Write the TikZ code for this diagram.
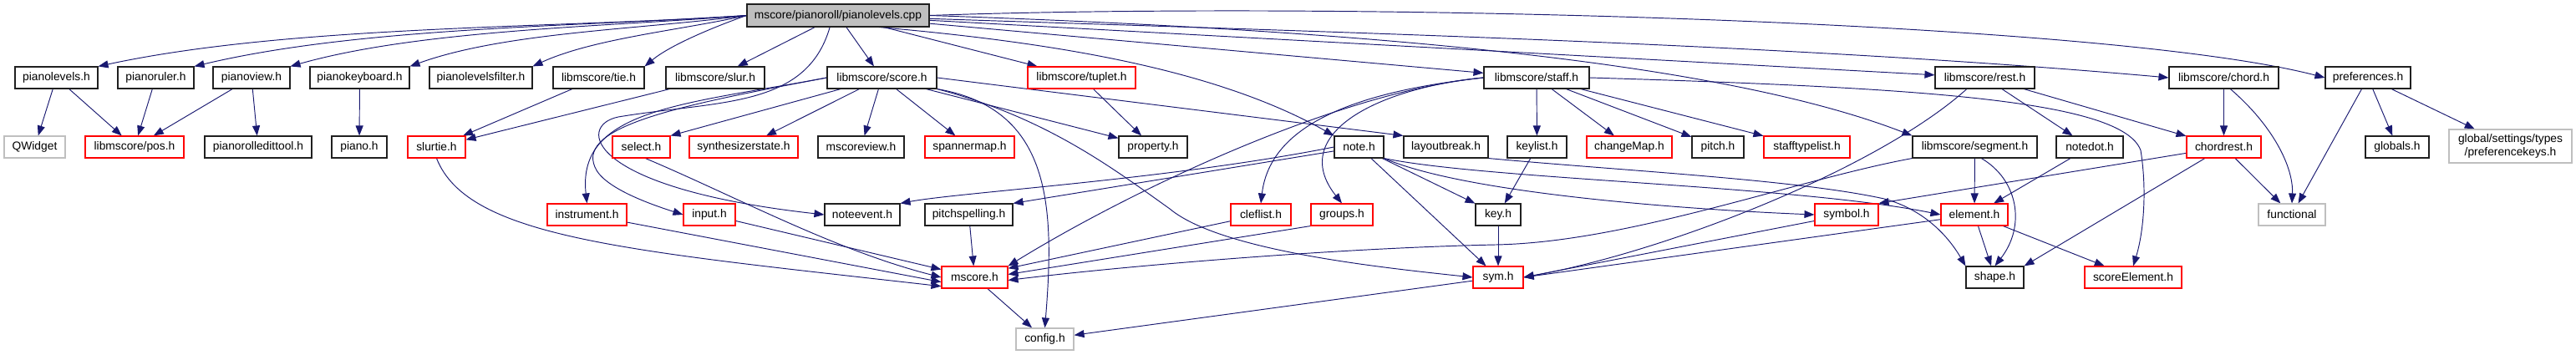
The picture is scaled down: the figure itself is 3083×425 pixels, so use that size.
\documentclass[tikz,border=0pt]{standalone}
\usepackage{fontspec}
\setmainfont{Liberation Sans}
\usetikzlibrary{arrows.meta}
\definecolor{edgec}{HTML}{191970}
\definecolor{grayb}{HTML}{BFBFBF}
\definecolor{rootf}{HTML}{BFBFBF}
\definecolor{boxk}{HTML}{202020}
\pgfdeclarelayer{bg}
\pgfsetlayers{bg,main}
\begin{document}
\begin{tikzpicture}[x=1pt,y=1pt,
  fbox/.style={draw=boxk, line width=1.1pt, fill=white, minimum height=26pt, inner sep=0pt,
    font=\fontsize{13.8}{16}\selectfont, text=black},
  rbox/.style={fbox, draw=red},
  gbox/.style={fbox, draw=grayb},
  rootbox/.style={fbox, fill=rootf, minimum height=27pt},
  dep/.style={draw=edgec, line width=0.95pt, -{Triangle[length=12pt,width=9pt]}}
]
\useasboundingbox (0,0) rectangle (3083,-425);

% row 0
\node[rootbox, minimum width=218pt] (R) at (1003,-18.5) {mscore/pianoroll/pianolevels.cpp};
% row 1
\node[fbox, minimum width=99pt]  (plv)    at (67.5,-93)  {pianolevels.h};
\node[fbox, minimum width=91pt]  (pr)     at (186.5,-93) {pianoruler.h};
\node[fbox, minimum width=92pt]  (pv)     at (301,-93)   {pianoview.h};
\node[fbox, minimum width=119pt] (pk)     at (430.5,-93) {pianokeyboard.h};
\node[fbox, minimum width=123pt] (pf)     at (575.5,-93) {pianolevelsfilter.h};
\node[fbox, minimum width=109pt] (tie)    at (716.5,-93) {libmscore/tie.h};
\node[fbox, minimum width=118pt] (slur)   at (856,-93)   {libmscore/slur.h};
\node[fbox, minimum width=131pt] (score)  at (1055.5,-93) {libmscore/score.h};
\node[rbox, minimum width=129pt] (tuplet) at (1294.5,-93) {libmscore/tuplet.h};
\node[fbox, minimum width=126pt] (staff)  at (1839,-93)  {libmscore/staff.h};
\node[fbox, minimum width=119pt] (rest)   at (2375.5,-93) {libmscore/rest.h};
\node[fbox, minimum width=131pt] (chord)  at (2661.5,-93) {libmscore/chord.h};
\node[fbox, minimum width=102pt] (pref)   at (2834,-93)  {preferences.h};
% row 2
\node[gbox, minimum width=73pt]  (qw)      at (41.5,-176)  {QWidget};
\node[rbox, minimum width=118pt] (pos)     at (161,-176)   {libmscore/pos.h};
\node[fbox, minimum width=128pt] (pet)     at (309,-176)   {pianorolledittool.h};
\node[fbox, minimum width=66pt]  (piano)   at (430,-176)   {piano.h};
\node[rbox, minimum width=69pt]  (slurtie) at (522.5,-176) {slurtie.h};
\node[rbox, minimum width=69pt]  (select)  at (767.5,-176) {select.h};
\node[rbox, minimum width=130pt] (synth)   at (890,-176)   {synthesizerstate.h};
\node[fbox, minimum width=103pt] (msv)     at (1030.5,-176) {mscoreview.h};
\node[rbox, minimum width=107pt] (span)    at (1160.5,-176) {spannermap.h};
\node[fbox, minimum width=82pt]  (prop)    at (1380,-176)  {property.h};
\node[fbox, minimum width=59pt]  (note)    at (1626.5,-176) {note.h};
\node[fbox, minimum width=101pt] (lb)      at (1730.5,-176) {layoutbreak.h};
\node[fbox, minimum width=71pt]  (keylist) at (1839.5,-176) {keylist.h};
\node[rbox, minimum width=102pt] (cmap)    at (1950,-176)  {changeMap.h};
\node[fbox, minimum width=62pt]  (pitch)   at (2056,-176)  {pitch.h};
\node[rbox, minimum width=103pt] (stl)     at (2162.5,-176) {stafftypelist.h};
\node[fbox, minimum width=149pt] (seg)     at (2363.5,-176) {libmscore/segment.h};
\node[fbox, minimum width=80pt]  (notedot) at (2501,-176)  {notedot.h};
\node[rbox, minimum width=89pt]  (cr)      at (2661.5,-176) {chordrest.h};
\node[fbox, minimum width=76pt]  (glob)    at (2869,-176)  {globals.h};
\node[gbox, minimum width=147pt, minimum height=40pt, align=center] (pk2) at (3004.5,-175)
  {global/settings/types\\/preferencekeys.h};
% row 3
\node[rbox, minimum width=95pt]  (instr)  at (702.5,-257) {instrument.h};
\node[rbox, minimum width=62pt]  (input)  at (849,-257)   {input.h};
\node[fbox, minimum width=90pt]  (nev)    at (1032,-257)  {noteevent.h};
\node[fbox, minimum width=105pt] (psp)    at (1159.5,-257) {pitchspelling.h};
\node[rbox, minimum width=72pt]  (clef)   at (1509,-257)  {cleflist.h};
\node[rbox, minimum width=74pt]  (groups) at (1606,-257)  {groups.h};
\node[fbox, minimum width=54pt]  (key)    at (1793,-257)  {key.h};
\node[rbox, minimum width=76pt]  (symbol) at (2210,-257)  {symbol.h};
\node[rbox, minimum width=80pt]  (elem)   at (2363,-257)  {element.h};
\node[gbox, minimum width=80pt]  (func)   at (2743,-257)  {functional};
% row 4
\node[rbox, minimum width=79pt]  (ms)    at (1166.5,-332) {mscore.h};
\node[rbox, minimum width=60pt]  (sym)   at (1793,-332)   {sym.h};
\node[fbox, minimum width=69pt]  (shape) at (2387.5,-332) {shape.h};
\node[rbox, minimum width=116pt] (sce)   at (2553,-332)   {scoreElement.h};
% row 5
\node[gbox, minimum width=69pt]  (config) at (1250.5,-406) {config.h};

\begin{pgfonlayer}{bg}
% from the root
\draw[dep] (R.west) .. controls (664,-34) and (347,-30) .. (plv.north east);
\draw[dep] (R.west) .. controls (694,-32) and (432,-32) .. (pr.north east);
\draw[dep] (R.west) .. controls (730,-32) and (505,-35) .. (pv.north east);
\draw[dep] (R.west) .. controls (773,-35) and (605,-38) .. (pk.north east);
\draw[dep] (R.west) .. controls (816,-36) and (710,-46) .. (pf.north east);
\draw[dep] (R.west) .. controls (855,-32) and (802,-54) .. (tie.north east);
\draw[dep] (R) -- (slur);
\draw[dep] (R) -- (score);
\draw[dep] (R) -- (tuplet);
\draw[dep] (R.344) .. controls (1250,-50) and (1450,-80) .. (note.north west);
\draw[dep] (R) -- (staff);
\draw[dep] (R.east) .. controls (1600,-35) and (2050,-70) .. (seg.north west);
\draw[dep] (R) -- (rest);
\draw[dep] (R.-2) .. controls (1577,-38) and (2133,-52) .. (chord.west);
\draw[dep] (R.east) .. controls (1614,-1) and (2520,-25) .. (pref.west);
\draw[dep] (R.235) .. controls (965,-130) and (860,-120) .. (740,-140)
   .. controls (690,-150) and (700,-225) .. (nev.west);
% piano part
\draw[dep] (plv) -- (qw);
\draw[dep] (plv) -- (pos);
\draw[dep] (pr) -- (pos);
\draw[dep] (pv) -- (pos);
\draw[dep] (pv) -- (pet);
\draw[dep] (pk) -- (piano);
\draw[dep] (tie) -- (slurtie);
\draw[dep] (slur) -- (slurtie);
\draw[dep] (slurtie.south) .. controls (560,-285) and (750,-300) .. (ms.195);
% score.h
\draw[dep] (score) -- (select.north east);
\draw[dep] (score) -- (synth);
\draw[dep] (score) -- (msv);
\draw[dep] (score) -- (span);
\draw[dep] (score) -- (prop);
\draw[dep] (score.east) -- (lb.north west);
\draw[dep] (score.west) .. controls (820,-125) and (690,-130) .. (instr.north);
\draw[dep] (score.west) .. controls (820,-125) and (690,-150) .. (712,-200)
   .. controls (722,-225) and (780,-245) .. (input.west);
\draw[dep] (score.south east) .. controls (1260,-130) and (1262,-250) .. (config.north);
\draw[dep] (score.south east) .. controls (1250,-140) and (1330,-200) .. (1400,-250)
   .. controls (1460,-300) and (1650,-320) .. (sym.west);
\draw[dep] (tuplet) -- (prop);
% note.h
\draw[dep] (note.west) .. controls (1400,-215) and (1150,-230) .. (nev.north east);
\draw[dep] (note) -- (psp.north east);
\draw[dep] (note) -- (key);
\draw[dep] (note) -- (sym);
\draw[dep] (note.south east) .. controls (1750,-230) and (2000,-250) .. (symbol.west);
\draw[dep] (note.south east) .. controls (1780,-215) and (2150,-222) .. (elem.west);
% staff.h
\draw[dep] (staff) -- (keylist);
\draw[dep] (staff) -- (cmap);
\draw[dep] (staff) -- (pitch);
\draw[dep] (staff) -- (stl);
\draw[dep] (staff.west) .. controls (1620,-110) and (1520,-150) .. (clef.north);
\draw[dep] (staff.west) .. controls (1650,-105) and (1540,-160) .. (groups.north);
\draw[dep] (staff.west) .. controls (1600,-110) and (1350,-230) .. (ms.north east);
\draw[dep] (staff.east) .. controls (2300,-105) and (2540,-120) .. (2562,-180)
   .. controls (2570,-230) and (2565,-280) .. (sce.north);
% rest.h, chord.h, preferences.h
\draw[dep] (rest) -- (notedot);
\draw[dep] (rest) -- (cr);
\draw[dep] (rest.212) .. controls (2250,-200) and (2000,-300) .. (sym.east);
\draw[dep] (chord) -- (cr);
\draw[dep] (chord.300) .. controls (2720,-150) and (2745,-200) .. (func.north);
\draw[dep] (pref) -- (func);
\draw[dep] (pref) -- (glob);
\draw[dep] (pref) -- (pk2);
% chordrest.h
\draw[dep] (cr) -- (symbol.north east);
\draw[dep] (cr) -- (shape.north east);
\draw[dep] (cr) -- (func);
% segment.h
\draw[dep] (seg) -- (elem);
\draw[dep] (seg.300) .. controls (2415,-215) and (2425,-270) .. (shape.north);
\draw[dep] (seg.south west) .. controls (2150,-215) and (1950,-290) .. (1790,-293)
   .. controls (1600,-297) and (1350,-318) .. (ms.-5);
\draw[dep] (notedot) -- (elem);
\draw[dep] (lb.south east) .. controls (1950,-205) and (2150,-215) .. (2255,-238)
   .. controls (2300,-250) and (2330,-280) .. (shape.north west);
% element, symbol, key
\draw[dep] (elem.188) -- (sym.east);
\draw[dep] (elem) -- (shape);
\draw[dep] (elem) -- (sce);
\draw[dep] (symbol) -- (sym.east);
\draw[dep] (keylist) -- (key);
\draw[dep] (key) -- (sym);
% into mscore.h
\draw[dep] (select.290) .. controls (880,-235) and (1000,-300) .. (ms.west);
\draw[dep] (input) -- (ms);
\draw[dep] (instr) -- (ms.188);
\draw[dep] (psp) -- (ms);
\draw[dep] (clef) -- (ms.15);
\draw[dep] (groups.south west) -- (ms.5);
% into config.h
\draw[dep] (ms) -- (config);
\draw[dep] (sym) -- (config);
\end{pgfonlayer}
\end{tikzpicture}
\end{document}
